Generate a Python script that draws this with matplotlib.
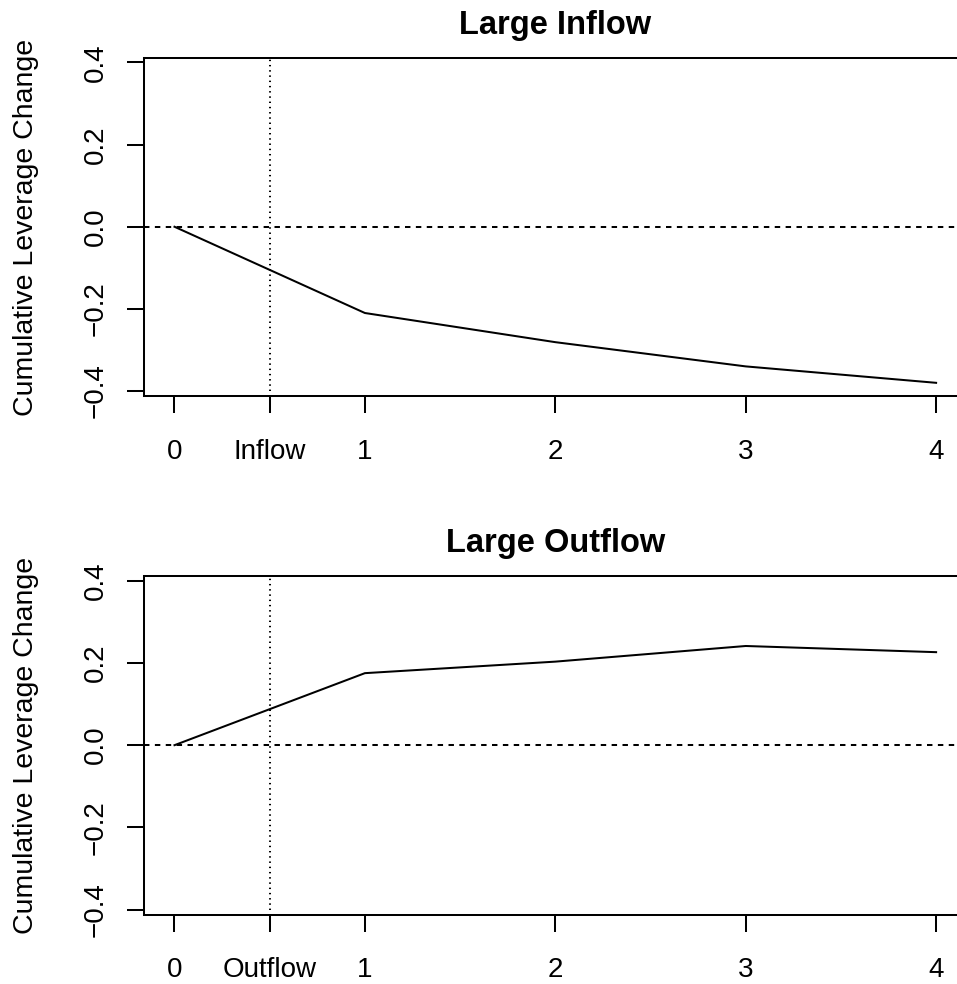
import matplotlib
matplotlib.use("Agg")
import matplotlib.pyplot as plt

plt.rcParams['font.family'] = ['Liberation Sans', 'DejaVu Sans']

# horizon (years after the shock) and cumulative leverage change
horizon = [0, 1, 2, 3, 4]
inflow_cum = [0.0, -0.210, -0.281, -0.340, -0.380]
outflow_cum = [0.0, 0.175, 0.203, 0.241, 0.226]

y_ticks = [-0.4, -0.2, 0.0, 0.2, 0.4]
y_ticklabels = ['\u22120.4', '\u22120.2', '0.0', '0.2', '0.4']
event_x = 0.5

panels = [
    ('Large Inflow', inflow_cum, 'Inflow', [0.1505, 0.5976, 0.8595, 0.3435]),
    ('Large Outflow', outflow_cum, 'Outflow', [0.1505, 0.0704, 0.8595, 0.3442]),
]

fig = plt.figure(figsize=(9.57, 9.84), dpi=100)
lw = 1.45

for title, vals, event_name, pos in panels:
    ax = fig.add_axes(pos)
    ax.plot(horizon, vals, color='black', lw=lw)
    ax.axhline(0, color='black', lw=lw, linestyle=(0, (2.7, 2.7)))
    # dotted marker for the flow event, between year 0 and year 1
    ax.vlines(event_x, -0.4, 0.45, color='black', lw=lw, linestyles=[(0, (0.7, 1.9))])
    ax.set_xlim(-0.16, 4.16)
    ax.set_ylim(-0.412, 0.411)

    xt = [0, event_x, 1, 2, 3, 4]
    xl = ['0', event_name, '1', '2', '3', '4']
    ax.set_xticks(xt)
    ax.set_xticklabels(xl, fontsize=20)
    ax.set_yticks(y_ticks)
    ax.set_yticklabels(y_ticklabels, fontsize=20, rotation=90, va='center')
    ax.tick_params(axis='both', direction='out', length=12.2, width=lw)
    ax.tick_params(axis='x', pad=18.5)
    ax.tick_params(axis='y', pad=13)
    for s in ax.spines.values():
        s.set_linewidth(lw)

    ax.set_title(title, fontsize=23.5, fontweight='bold', pad=17)
    ax.set_ylabel('Cumulative Leverage Change', fontsize=20.5)
    ax.yaxis.set_label_coords(-0.128, 0.5)

fig.savefig('out.png', dpi=100)
